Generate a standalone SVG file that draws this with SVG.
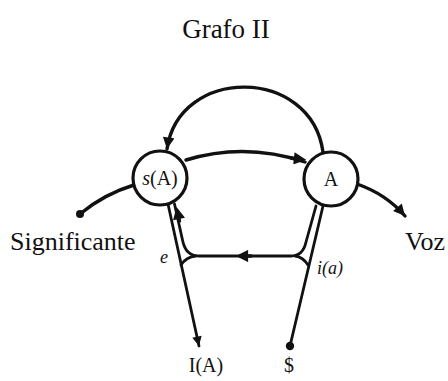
<svg xmlns="http://www.w3.org/2000/svg" width="448" height="381" viewBox="0 0 448 381">
<style>
.ln{fill:none;stroke:#111;stroke-width:3.4;stroke-linecap:round;stroke-linejoin:round}
.dl{fill:none;stroke:#111;stroke-width:2.8;stroke-linecap:round;stroke-linejoin:round}
.nd{fill:#fff;stroke:#111;stroke-width:3.2}
.t{font-family:"Liberation Serif","Times New Roman",serif;fill:#111}
</style>
<defs>
<marker id="ah" viewBox="0 0 10 10" refX="5" refY="5" markerWidth="4" markerHeight="3.6" orient="auto" markerUnits="strokeWidth">
<path d="M0,0 L10,5 L0,10 z" fill="#111"/>
</marker>
<marker id="ahe" viewBox="0 0 10 10" refX="10" refY="5" markerWidth="4" markerHeight="3.4" orient="auto" markerUnits="strokeWidth">
<path d="M0,0 L10,5 L0,10 z" fill="#111"/>
</marker>
</defs>
<text class="t" x="226" y="38" font-size="27" text-anchor="middle">Grafo II</text>
<g id="connectors">
<path class="ln" d="M323 152 C311 66 179 66 167 149" marker-end="url(#ahe)"/>
<path class="ln" d="M186 160 Q245 142 305 162"/>
<path class="ln" d="M291 158 L300 159" marker-end="url(#ah)"/>
<path class="ln" d="M134 185 Q104 194 80 214"/>
<circle cx="80" cy="214" r="4" fill="#111"/>
<path class="ln" d="M357 184 Q386 194 405 216" marker-end="url(#ahe)"/>
<path class="dl" d="M168 204 L199 346" marker-end="url(#ahe)"/>
<path class="dl" d="M174.5 204 L182.5 240 Q185.5 256 199 256 L291 256 Q303 256 306 242 L316 206"/>
<path class="dl" d="M181 265 Q186 257 196 256"/>
<path class="dl" d="M308 265 Q303 257 295 256"/>
<path class="dl" d="M323 206 L290 346"/>
<circle cx="290" cy="346" r="4.2" fill="#111"/>
<path class="ln" d="M251 256 L242 256" marker-end="url(#ah)"/>
<path class="ln" d="M179.5 221 L177.8 213" marker-end="url(#ah)"/>
</g>
<g id="node-sA">
<circle class="nd" cx="160" cy="178" r="27"/>
<text class="t" x="160" y="185" font-size="20" text-anchor="middle"><tspan font-style="italic">s</tspan>(A)</text>
</g>
<g id="node-A">
<circle class="nd" cx="331" cy="179" r="27"/>
<text class="t" x="331" y="186" font-size="20" text-anchor="middle">A</text>
</g>
<g id="labels">
<text class="t" x="10" y="250" font-size="26">Significante</text>
<text class="t" x="405" y="250" font-size="26">Voz</text>
<text class="t" x="164" y="263" font-size="18" font-style="italic" text-anchor="middle">e</text>
<text class="t" x="317" y="274" font-size="18" font-style="italic">i(a)</text>
<text class="t" x="206" y="372" font-size="20" text-anchor="middle">I(A)</text>
<text class="t" x="289" y="372" font-size="20" text-anchor="middle">$</text>
</g>
</svg>
